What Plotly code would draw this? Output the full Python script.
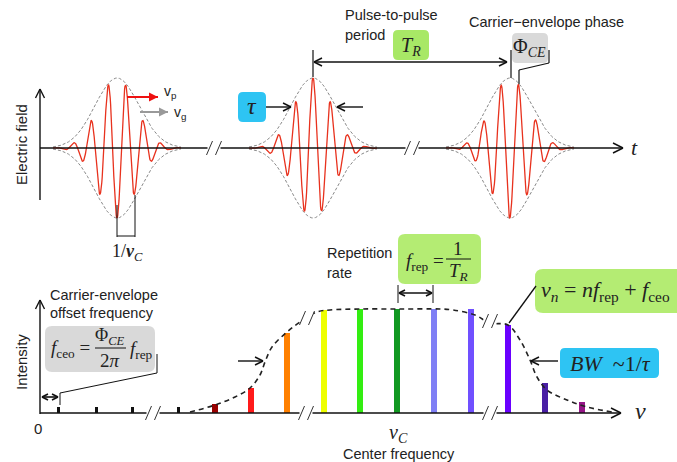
import numpy as np
import plotly.graph_objects as go

# ---------------- data ----------------
# top panel: three pulses (center position, carrier phase in rad)
pulse_center = [117, 313, 510]
pulse_phase = [np.pi, 0.0, -2 * np.pi * 8.5 / 17.5]
pulse_amp = 70
carrier_period = 17.5
carrier_sigma = 19
envelope_sigma = 22
time_axis_y = 148

# bottom panel: comb lines (frequency position, intensity, colour)
comb_freq = [58, 96, 132, 178, 215, 251, 287, 324, 360, 397, 434, 471, 508, 545, 582]
comb_int = [6, 6, 6, 6, 9, 25, 80, 103, 104, 104, 104, 104, 88, 30, 11]
comb_color = ["#111111", "#111111", "#111111", "#111111", "#990000", "#ff1a1a",
              "#ff8000", "#eeff00", "#33ee11", "#119922", "#7f7ff5", "#7050ff",
              "#6a00ff", "#4a1fa5", "#961588"]
comb_width = [3, 3, 3, 3, 6, 6, 6, 6, 6, 6, 6, 6, 6, 6, 6]
freq_axis_y = 413

# spectral envelope (frequency, intensity)
env_freq = [190, 215, 235, 250, 260, 265, 272, 287, 300, 317, 330, 360, 400, 440, 453,
            475, 490, 508, 520, 530, 537, 547, 567, 587, 612]
env_int = [1, 8, 16, 25, 38, 51, 66, 81, 91, 101, 103, 104, 104, 104, 103,
           98, 90, 88, 73, 53, 36, 23, 13, 6, 1]

W, H = 677, 462
fig = go.Figure()

# ---------------- top panel: pulses ----------------
for c, ph in zip(pulse_center, pulse_phase):
    dx = np.arange(-64, 64.01, 0.4)
    env = pulse_amp * np.exp(-dx ** 2 / (2 * envelope_sigma ** 2))
    for sgn in (-1, 1):
        fig.add_trace(go.Scatter(x=c + dx, y=time_axis_y + sgn * env, mode="lines",
                                 line=dict(color="#888888", width=1, dash="3px,2px"),
                                 hoverinfo="skip"))
    field = pulse_amp * np.exp(-dx ** 2 / (2 * carrier_sigma ** 2)) * np.cos(2 * np.pi * dx / carrier_period + ph)
    fig.add_trace(go.Scatter(x=c + dx, y=time_axis_y - field, mode="lines",
                             line=dict(color="#e8321e", width=1.3), hoverinfo="skip"))

# ---------------- bottom panel: comb ----------------
fig.add_trace(go.Bar(x=comb_freq, y=[-v for v in comb_int], base=freq_axis_y,
                     width=comb_width, marker=dict(color=comb_color, line=dict(width=0)),
                     hoverinfo="skip"))
fig.add_trace(go.Scatter(x=env_freq, y=[freq_axis_y - v for v in env_int], mode="lines",
                         line=dict(color="#222222", width=1.6, dash="5px,4px", shape="spline"),
                         hoverinfo="skip"))

shapes = []
ann = []


def line(x0, y0, x1, y1, color="#111111", width=1.4):
    shapes.append(dict(type="line", x0=x0, y0=y0, x1=x1, y1=y1, xref="x", yref="y",
                       line=dict(color=color, width=width), layer="above"))


def head(x0, y0, x1, y1, color="#111111", width=1.4, L=8, filled=False):
    d = np.array([x1 - x0, y1 - y0], float)
    d /= np.hypot(*d)
    n = np.array([-d[1], d[0]])
    a = 0.5
    p1 = np.array([x1, y1]) - L * d + L * a * n
    p2 = np.array([x1, y1]) - L * d - L * a * n
    if filled:
        shapes.append(dict(type="path", xref="x", yref="y", layer="above",
                           path=f"M {x1},{y1} L {p1[0]},{p1[1]} L {p2[0]},{p2[1]} Z",
                           fillcolor=color, line=dict(width=0)))
    else:
        line(p1[0], p1[1], x1, y1, color, width)
        line(p2[0], p2[1], x1, y1, color, width)


def arrow(x0, y0, x1, y1, color="#111111", width=1.4, L=8, filled=False, both=False):
    line(x0, y0, x1, y1, color, width)
    head(x0, y0, x1, y1, color, width, L, filled)
    if both:
        head(x1, y1, x0, y0, color, width, L, filled)


def text(x, y, s, size=13, color="#222222", family="Liberation Sans", xanchor="center",
         angle=0):
    ann.append(dict(x=x, y=y, xref="x", yref="y", text=s, showarrow=False,
                    font=dict(size=size, color=color, family=family), xanchor=xanchor,
                    yanchor="middle", textangle=angle))


def rbox(x0, y0, x1, y1, color, r=5):
    p = (f"M {x0+r},{y0} L {x1-r},{y0} Q {x1},{y0} {x1},{y0+r} L {x1},{y1-r} "
         f"Q {x1},{y1} {x1-r},{y1} L {x0+r},{y1} Q {x0},{y1} {x0},{y1-r} "
         f"L {x0},{y0+r} Q {x0},{y0} {x0+r},{y0} Z")
    shapes.append(dict(type="path", path=p, xref="x", yref="y", fillcolor=color,
                       line=dict(width=0), layer="above"))


def brk(x, y, h=7, gap=9):
    shapes.append(dict(type="rect", x0=x - gap / 2 - 2, x1=x + gap / 2 + 2, y0=y - h + 1,
                       y1=y + h - 1, xref="x", yref="y", fillcolor="white",
                       line=dict(width=0), layer="above"))
    for xo in (x - gap / 2, x + gap / 2):
        line(xo - 3, y + h, xo + 3, y - h, color="#333333", width=1)


serif = "Liberation Serif"
sp = "&nbsp;"

# top axes
arrow(40, time_axis_y, 623, time_axis_y, L=10)
arrow(40, 200, 40, 89, L=9)
brk(214, time_axis_y)
brk(412, time_axis_y)
text(634, time_axis_y - 1, "<i>t</i>", size=22, family=serif)
text(21, 145, "Electric field", size=15, angle=-90)

# v_p / v_g arrows
arrow(127, 97, 158, 97, color="#ee1111", width=2, L=9, filled=True)
arrow(140, 112, 168, 112, color="#999999", width=2, L=9, filled=True)
text(162, 92, "v<sub>p</sub>", size=14, xanchor="left")
text(172, 113, "v<sub>g</sub>", size=14, xanchor="left")

# 1/nu_C bracket
line(117, 205, 117, 237, width=1)
line(135, 195, 135, 237, width=1)
line(117, 236, 135, 236, width=1)
text(127, 252, "1/<b><i>ν</i></b><sub><i>C</i></sub>", size=18, family=serif)

# tau
rbox(238, 92, 266, 122, "#2ec4f3")
text(252, 106, "<i>τ</i>", size=24, family=serif)
arrow(266, 107, 291, 107)
arrow(363, 107, 337, 107)

# pulse-to-pulse period
text(343, 15, "Pulse-to-pulse", size=14.5, xanchor="left")
text(343, 35, "period", size=14.5, xanchor="left")
rbox(393, 30, 429, 60, "#a8e866")
text(411, 46, "<i>T</i><sub><i>R</i></sub>", size=20, family=serif)
line(313, 50, 313, 77, width=1.2)
line(511, 50, 511, 78, width=1.2)
arrow(314, 62, 507, 62, both=True)

# carrier-envelope phase
text(546, 22, "Carrier−envelope phase", size=14.5)
rbox(512, 33, 548, 63, "#d9d9d9")
text(529, 47, "Φ<sub><i>CE</i></sub>", size=20, family=serif)
line(519, 84, 519, 70, width=1.2)
line(519, 70, 549, 63, width=1.2)
line(549, 63, 549, 50, width=1.2)

# bottom axes
arrow(40, freq_axis_y, 621, freq_axis_y, L=10)
arrow(40, 414, 40, 300, L=9)
brk(153, freq_axis_y)
brk(306, freq_axis_y)
brk(490, freq_axis_y)
brk(307, 318)
brk(490, 321)
text(640, freq_axis_y - 2, "<i>ν</i>", size=24, family=serif)
text(38, 428, "0", size=15)
text(21, 362, "Intensity", size=15, angle=-90)

# carrier-envelope offset frequency
text(48, 295, "Carrier-envelope", size=14.5, xanchor="left")
text(48, 313, "offset frequency", size=14.5, xanchor="left")
rbox(45, 326, 155, 372, "#d9d9d9", r=7)
text(49, 349, "<i>f</i><sub>ceo</sub> =", size=19, family=serif, xanchor="left")
text(110, 336, "Φ<sub><i>CE</i></sub>", size=18, family=serif)
line(95, 348, 126, 348, width=1)
text(110, 360, "2<i>π</i>", size=19, family=serif)
text(128, 350, "<i>f</i><sub>rep</sub>", size=19, family=serif, xanchor="left")
line(157, 354, 157, 373, width=1)
line(157, 373, 60, 393, width=1)
line(60, 393, 60, 405, width=1)
arrow(42, 397, 58, 397, width=1.6, L=6, both=True)
arrow(238, 361, 263, 361)

# repetition rate
text(325, 253, "Repetition", size=14.5, xanchor="left")
text(325, 273, "rate", size=14.5, xanchor="left")
rbox(398, 234, 481, 284, "#b4ec73", r=7)
text(404, 262, "<i>f</i><sub>rep</sub> =", size=19, family=serif, xanchor="left")
text(458, 248, "1", size=19, family=serif)
line(446, 259, 471, 259, width=1)
text(458, 272, "<i>T</i><sub><i>R</i></sub>", size=19, family=serif)
line(398, 285, 398, 303, width=1)
line(433, 285, 433, 303, width=1)
arrow(399, 293, 432, 293, width=1.6, L=6, both=True)

# nu_n
rbox(535, 269, 690, 313, "#b4ec73", r=8)
text(539, 291, f"<i>ν</i><sub><i>n</i></sub>{sp}={sp}<i>nf</i><sub>rep</sub>{sp}+{sp}<i>f</i><sub>ceo</sub>",
     size=22, family=serif, xanchor="left")
line(536, 286, 509, 323, width=1.3)

# BW
rbox(560, 348, 659, 378, "#2ec4f3", r=5)
text(610, 363, f"<i>BW</i>{sp}{sp}~1/<i>τ</i>", size=22, family=serif)
arrow(558, 361, 531, 361)

# center frequency
text(398, 433, "<i>ν</i><sub><i>C</i></sub>", size=20, family=serif)
text(399, 454, "Center frequency", size=14.5)

fig.update_layout(
    width=W, height=H, margin=dict(l=0, r=0, t=0, b=0),
    paper_bgcolor="white", plot_bgcolor="white", showlegend=False,
    xaxis=dict(range=[0, W], visible=False, fixedrange=True),
    yaxis=dict(range=[H, 0], visible=False, fixedrange=True),
    shapes=shapes, annotations=ann, bargap=0,
)
fig.write_html("out.html")
